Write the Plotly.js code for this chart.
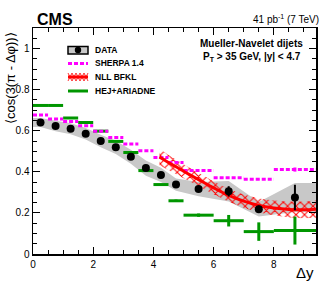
<!DOCTYPE html>
<html>
<head>
<meta charset="utf-8">
<script src="https://cdn.plot.ly/plotly-3.0.1.min.js"></script>
<style>html,body{margin:0;padding:0;background:#fff;}#chart{width:324px;height:284px;}</style>
</head>
<body>
<div id="chart"></div>
<script>
// ---- Data ----
// bin edges and bin centres of Δy
const binLo = [0, 0.5, 1.0, 1.5, 2.0, 2.5, 3.0, 3.5, 4.0, 4.5, 5.0, 6.0, 7.0, 8.0];
const binHi = [0.5, 1.0, 1.5, 2.0, 2.5, 3.0, 3.5, 4.0, 4.5, 5.0, 6.0, 7.0, 8.0, 9.4];
const dataX = [0.25, 0.75, 1.25, 1.75, 2.25, 2.75, 3.25, 3.75, 4.25, 4.75, 5.5, 6.5, 7.5, 8.7];
// DATA
const dataY    = [0.640, 0.623, 0.610, 0.585, 0.550, 0.519, 0.473, 0.418, 0.385, 0.338, 0.316, 0.305, 0.218, 0.275];
const dataStat = [0.004, 0.004, 0.004, 0.004, 0.005, 0.005, 0.006, 0.007, 0.008, 0.010, 0.012, 0.025, 0.018, 0.062];
const dataSys  = [0.022, 0.025, 0.027, 0.028, 0.030, 0.032, 0.034, 0.037, 0.035, 0.030, 0.035, 0.050, 0.035, 0.070];
// SHERPA 1.4
const sherpaY   = [0.677, 0.657, 0.645, 0.624, 0.597, 0.567, 0.535, 0.502, 0.470, 0.445, 0.406, 0.371, 0.364, 0.411];
const sherpaErr = [0, 0, 0, 0, 0, 0, 0, 0, 0, 0, 0, 0, 0, 0.010];
// HEJ+ARIADNE
const hejY   = [0.723, 0.723, 0.662, 0.640, 0.598, 0.548, 0.494, 0.406, 0.338, 0.259, 0.189, 0.162, 0.109, 0.114];
const hejErr = [0, 0, 0, 0, 0, 0, 0, 0, 0, 0.006, 0.008, 0.028, 0.045, 0.068];
// NLL BFKL
const bfklX  = [4.2, 4.5, 5.0, 5.5, 6.0, 6.5, 7.0, 7.5, 8.0, 8.5, 9.0, 9.4];
const bfklY  = [0.472, 0.445, 0.403, 0.362, 0.322, 0.285, 0.257, 0.236, 0.224, 0.217, 0.215, 0.218];
const bfklUp = [0.512, 0.482, 0.437, 0.394, 0.353, 0.316, 0.289, 0.270, 0.260, 0.256, 0.256, 0.260];
const bfklLo = [0.432, 0.408, 0.369, 0.330, 0.291, 0.254, 0.225, 0.202, 0.188, 0.178, 0.174, 0.176];
// axis ticks
const xTicks = [0, 2, 4, 6, 8];
const xTickText = ['0', '2', '4', '6', '8'];
const yTicks = [0, 0.2, 0.4, 0.6, 0.8, 1.0];
const yTickText = ['0', '0.2', '0.4', '0.6', '0.8', '1'];
const legendNames = ['DATA', 'SHERPA 1.4', 'NLL BFKL', 'HEJ+ARIADNE'];

// ---- helpers ----
function segments(lo, hi, v) {
  const xs = [], ys = [];
  for (let i = 0; i < v.length; i++) { xs.push(lo[i], hi[i], null); ys.push(v[i], v[i], null); }
  return {x: xs, y: ys};
}
const FONT = 'Liberation Sans, Arial, Helvetica, sans-serif';
const GREEN = 'rgb(0,150,0)', MAG = 'rgb(255,0,255)', RED = 'rgb(255,0,0)', GRAY = 'rgb(200,200,200)';

// systematic band (extended flat to the axis ends)
const bandX = [0].concat(dataX, [9.4]);
const bandUp = [dataY[0] + dataSys[0]].concat(dataY.map((v, i) => v + dataSys[i]), [dataY[dataY.length-1] + dataSys[dataSys.length-1]]);
const bandLo = [dataY[0] - dataSys[0]].concat(dataY.map((v, i) => v - dataSys[i]), [dataY[dataY.length-1] - dataSys[dataSys.length-1]]);

const sh = segments(binLo, binHi, sherpaY);
const hj = segments(binLo, binHi, hejY);

const traces = [
  {x: bandX.concat(bandX.slice().reverse()), y: bandUp.concat(bandLo.slice().reverse()),
   type: 'scatter', mode: 'lines', fill: 'toself', fillcolor: GRAY, line: {width: 0, color: GRAY},
   hoverinfo: 'skip', showlegend: false},
  {x: bfklX.concat(bfklX.slice().reverse()), y: bfklUp.concat(bfklLo.slice().reverse()),
   type: 'scatter', mode: 'lines', fill: 'toself', fillcolor: 'rgba(0,0,0,0)',
   fillpattern: {shape: 'x', fgcolor: RED, bgcolor: 'rgba(0,0,0,0)', size: 6, solidity: 0.3},
   line: {width: 0, color: RED}, hoverinfo: 'skip', showlegend: false},
  {x: hj.x, y: hj.y, type: 'scatter', mode: 'lines', line: {color: GREEN, width: 3},
   connectgaps: false, showlegend: false},
  {x: dataX, y: hejY, type: 'scatter', mode: 'markers', marker: {size: 1, color: GREEN},
   error_y: {type: 'data', array: hejErr, color: GREEN, thickness: 3, width: 0},
   showlegend: false},
  {x: sh.x, y: sh.y, type: 'scatter', mode: 'lines', line: {color: MAG, width: 3, dash: '4px,2px'},
   connectgaps: false, showlegend: false},
  {x: dataX, y: sherpaY, type: 'scatter', mode: 'markers', marker: {size: 1, color: MAG},
   error_y: {type: 'data', array: sherpaErr, color: MAG, thickness: 3, width: 0},
   showlegend: false},
  {x: bfklX, y: bfklY, type: 'scatter', mode: 'lines', line: {color: RED, width: 3, shape: 'spline'},
   showlegend: false},
  {x: dataX, y: dataY, type: 'scatter', mode: 'markers', marker: {size: 8, color: 'black'},
   error_y: {type: 'data', array: dataStat, color: 'black', thickness: 2, width: 0},
   showlegend: false}
];

// ---- manual legend in paper coordinates ----
const L = 33, T = 28, W = 283, H = 226;
const px = v => (v - L) / W;
const py = v => (254 - v) / H;
const legY = [50, 63.5, 77, 91];
const shapes = [
  {type: 'rect', xref: 'paper', yref: 'paper', x0: px(68), x1: px(88), y0: py(54), y1: py(46.5),
   fillcolor: GRAY, line: {color: 'black', width: 1.5}},
  {type: 'circle', xref: 'paper', yref: 'paper', x0: px(74.8), x1: px(81.2), y0: py(53.2), y1: py(46.8),
   fillcolor: 'black', line: {color: 'black', width: 0}},
  {type: 'line', xref: 'paper', yref: 'paper', x0: px(68), x1: px(88), y0: py(legY[1]), y1: py(legY[1]),
   line: {color: MAG, width: 3, dash: '4px,2px'}},
  {type: 'line', xref: 'paper', yref: 'paper', x0: px(68), x1: px(88), y0: py(legY[3]), y1: py(legY[3]),
   line: {color: GREEN, width: 3}}
];
// hatch for NLL BFKL legend
let p1 = '', p2 = '';
for (let i = 0; i <= 5; i++) {
  const xx = 68 + i * 4;
  const a = (i % 2 === 0) ? 73 : 81, b = (i % 2 === 0) ? 81 : 73;
  p1 += (i === 0 ? 'M' : 'L') + px(xx) + ',' + py(a);
  p2 += (i === 0 ? 'M' : 'L') + px(xx) + ',' + py(b);
}
shapes.push({type: 'path', xref: 'paper', yref: 'paper', path: p1 + ' ' + p2, line: {color: RED, width: 0.8}});
shapes.push({type: 'line', xref: 'paper', yref: 'paper', x0: px(68), x1: px(88), y0: py(legY[2]), y1: py(legY[2]),
   line: {color: RED, width: 3}});

const annotations = legendNames.map((t, i) => ({
  xref: 'paper', yref: 'paper', x: px(93), y: py(legY[i]), xanchor: 'left', yanchor: 'middle',
  text: '<b>' + t + '</b>', showarrow: false, font: {family: FONT, size: 8.5, color: 'black'}
}));
annotations.push(
  {xref: 'paper', yref: 'paper', x: px(35), y: py(19), xanchor: 'left', yanchor: 'middle',
   text: '<b>CMS</b>', showarrow: false, font: {family: FONT, size: 16, color: 'black'}},
  {xref: 'paper', yref: 'paper', x: px(321), y: py(19), xanchor: 'right', yanchor: 'middle',
   text: '41 pb<sup>-1</sup> (7 TeV)', showarrow: false, font: {family: FONT, size: 10, color: 'black'}},
  {xref: 'paper', yref: 'paper', x: px(252), y: py(43), xanchor: 'center', yanchor: 'middle',
   text: '<b>Mueller-Navelet dijets</b>', showarrow: false, font: {family: FONT, size: 10, color: 'black'}},
  {xref: 'paper', yref: 'paper', x: px(252), y: py(57), xanchor: 'center', yanchor: 'middle',
   text: '<b>P<sub>T</sub> &gt; 35 GeV, |y| &lt; 4.7</b>', showarrow: false, font: {family: FONT, size: 10, color: 'black'}},
  {xref: 'paper', yref: 'paper', x: px(10), y: py(78), xanchor: 'center', yanchor: 'middle', textangle: -90,
   text: '⟨cos(3(π - Δφ))⟩', showarrow: false, font: {family: FONT, size: 13, color: 'black'}},
  {xref: 'paper', yref: 'paper', x: 1, y: py(272), xanchor: 'right', yanchor: 'middle',
   text: 'Δy', showarrow: false, font: {family: FONT, size: 15, color: 'black'}}
);

const axisCommon = {
  showgrid: false, zeroline: false, showline: true, linecolor: 'black', linewidth: 1.5,
  mirror: 'ticks', ticks: 'inside', ticklen: 7, tickwidth: 1, tickcolor: 'black',
  tickfont: {family: FONT, size: 10, color: 'black'}, fixedrange: true
};
const layout = {
  width: 324, height: 284,
  margin: {l: L, r: 324 - L - W, t: T, b: 284 - T - H, pad: 0},
  paper_bgcolor: 'white', plot_bgcolor: 'white', showlegend: false,
  xaxis: Object.assign({}, axisCommon, {range: [0, 9.4], tickvals: xTicks, ticktext: xTickText,
    minor: {dtick: 0.5, tick0: 0, ticks: 'inside', ticklen: 4, tickcolor: 'black', tickwidth: 1}}),
  yaxis: Object.assign({}, axisCommon, {range: [0, 1.1], tickvals: yTicks, ticktext: yTickText,
    minor: {dtick: 0.05, tick0: 0, ticks: 'inside', ticklen: 4, tickcolor: 'black', tickwidth: 1}}),
  shapes: shapes, annotations: annotations
};
Plotly.newPlot('chart', traces, layout, {staticPlot: true, displayModeBar: false});
</script>
</body>
</html>
